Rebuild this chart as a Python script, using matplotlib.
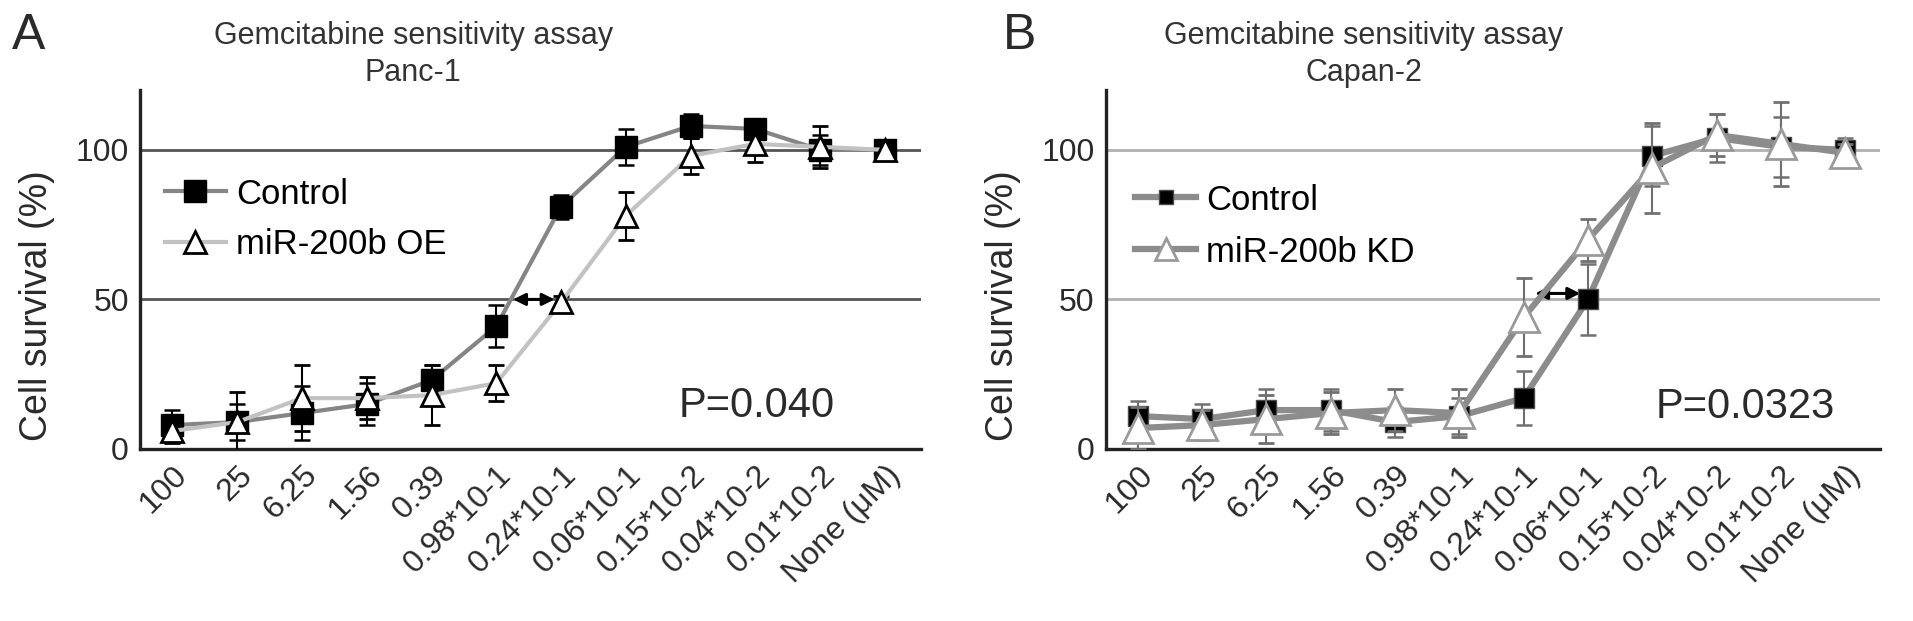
import numpy as np
import matplotlib.pyplot as plt

plt.rcParams['font.family'] = ['Liberation Sans', 'DejaVu Sans']

doses = ['100', '25', '6.25', '1.56', '0.39', '0.98*10-1', '0.24*10-1',
         '0.06*10-1', '0.15*10-2', '0.04*10-2', '0.01*10-2', 'None (\u03bcM)']

# Panc-1
panc_ctrl = [8, 9, 12, 15, 23, 41, 81, 101, 108, 107, 100, 100]
panc_ctrl_err = [5, 6, 9, 7, 5, 7, 4, 6, 4, 3, 5, 2]
panc_oe = [6, 9, 17, 17, 18, 22, 49, 78, 98, 102, 101, 100]
panc_oe_err = [4, 10, 11, 7, 10, 6, 2, 8, 6, 6, 7, 3]

# Capan-2
capan_ctrl = [11, 10, 13, 13, 9, 11, 17, 50, 98, 104, 101, 100]
capan_ctrl_err = [5, 5, 7, 7, 5, 6, 9, 12, 10, 8, 10, 4]
capan_kd = [7, 8, 10, 12, 13, 12, 44, 70, 94, 105, 102, 99]
capan_kd_err = [7, 5, 8, 7, 7, 8, 13, 7, 15, 7, 14, 3]

x = np.arange(len(doses))
TXT = '#2a2a2a'

fig = plt.figure(figsize=(19.13, 6.21), dpi=100)
ax1 = fig.add_axes([0.0732, 0.277, 0.408, 0.578])
ax2 = fig.add_axes([0.578, 0.277, 0.405, 0.578])


def style(ax, hcolor):
    ax.set_xlim(-0.5, 11.55)
    ax.set_ylim(0, 120)
    ax.set_yticks([0, 50, 100])
    ax.set_xticks(x)
    ax.set_xticklabels(doses, rotation=45, ha='right', rotation_mode='anchor',
                       fontsize=23, color=TXT)
    ax.tick_params(axis='y', labelsize=23, length=0, pad=8, labelcolor=TXT)
    ax.tick_params(axis='x', length=0, pad=8)
    for s in ['top', 'right']:
        ax.spines[s].set_visible(False)
    for s in ['left', 'bottom']:
        ax.spines[s].set_linewidth(2.4)
        ax.spines[s].set_color('#222222')
    ax.axhline(50, color=hcolor, lw=2, zorder=0)
    ax.axhline(100, color=hcolor, lw=2, zorder=0)
    ax.set_ylabel('Cell survival (%)', fontsize=27, color=TXT)
    ax.yaxis.label.set_verticalalignment('center')
    ax.yaxis.set_label_coords(-0.132, 0.40)


# Panel A
style(ax1, '#555555')
c1 = ax1.errorbar(x, panc_ctrl, yerr=panc_ctrl_err, color='#858585', lw=3,
                  marker='s', ms=16, mfc='black', mec='black', ecolor='black',
                  elinewidth=1.5, capsize=6, capthick=1.8, zorder=3)
o1 = ax1.errorbar(x, panc_oe, yerr=panc_oe_err, color='#c2c2c2', lw=3,
                  marker='^', ms=16, mfc='white', mec='black', mew=2, ecolor='black',
                  elinewidth=1.5, capsize=6, capthick=1.8, zorder=4)
ax1.annotate('', xy=(5.26, 50), xytext=(5.9, 50),
             arrowprops=dict(arrowstyle='<|-|>', color='black', lw=2.2,
                             mutation_scale=18, shrinkA=0, shrinkB=0))
ax1.text(0.69, 10.7, 'P=0.040', fontsize=30, color=TXT,
         transform=ax1.get_yaxis_transform(), va='baseline')
ax1.text(0.35, 1.005, 'Gemcitabine sensitivity assay\nPanc-1', fontsize=22,
         color='#333333', ha='center', va='bottom', linespacing=1.3,
         transform=ax1.transAxes)
ax1.legend([c1.lines[0], o1.lines[0]], ['Control', 'miR-200b OE'],
           loc='center left', bbox_to_anchor=(0.032, 0.64), frameon=False,
           fontsize=25, handlelength=1.75, handletextpad=0.3, borderpad=0,
           borderaxespad=0, labelspacing=0.5)

# Panel B
style(ax2, '#b0b0b0')
c2 = ax2.errorbar(x, capan_ctrl, yerr=capan_ctrl_err, color='#8c8c8c', lw=4.5,
                  marker='s', ms=14, mfc='black', mec='#4a4a4a', ecolor='#707070',
                  elinewidth=1.5, capsize=6, capthick=1.8, zorder=3)
k2 = ax2.errorbar(x, capan_kd, yerr=capan_kd_err, color='#8c8c8c', lw=4.5,
                  marker='^', ms=21, mfc='white', mec='#9a9a9a', mew=2, ecolor='#707070',
                  elinewidth=1.5, capsize=6, capthick=1.8, zorder=4)
ax2.annotate('', xy=(6.18, 52), xytext=(6.88, 52),
             arrowprops=dict(arrowstyle='<|-|>', color='black', lw=2.2,
                             mutation_scale=18, shrinkA=0, shrinkB=0))
ax2.text(0.71, 10.3, 'P=0.0323', fontsize=30, color=TXT,
         transform=ax2.get_yaxis_transform(), va='baseline')
ax2.text(0.333, 1.005, 'Gemcitabine sensitivity assay\nCapan-2', fontsize=22,
         color='#333333', ha='center', va='bottom', linespacing=1.3,
         transform=ax2.transAxes)
ax2.legend([c2.lines[0], k2.lines[0]], ['Control', 'miR-200b KD'],
           loc='center left', bbox_to_anchor=(0.038, 0.621), frameon=False,
           fontsize=25, handlelength=1.75, handletextpad=0.3, borderpad=0,
           borderaxespad=0, labelspacing=0.55, markerscale=0.75)

fig.text(0.006, 0.921, 'A', fontsize=36, color=TXT)
fig.text(0.524, 0.921, 'B', fontsize=36, color=TXT)

fig.savefig('out.png', dpi=100)
